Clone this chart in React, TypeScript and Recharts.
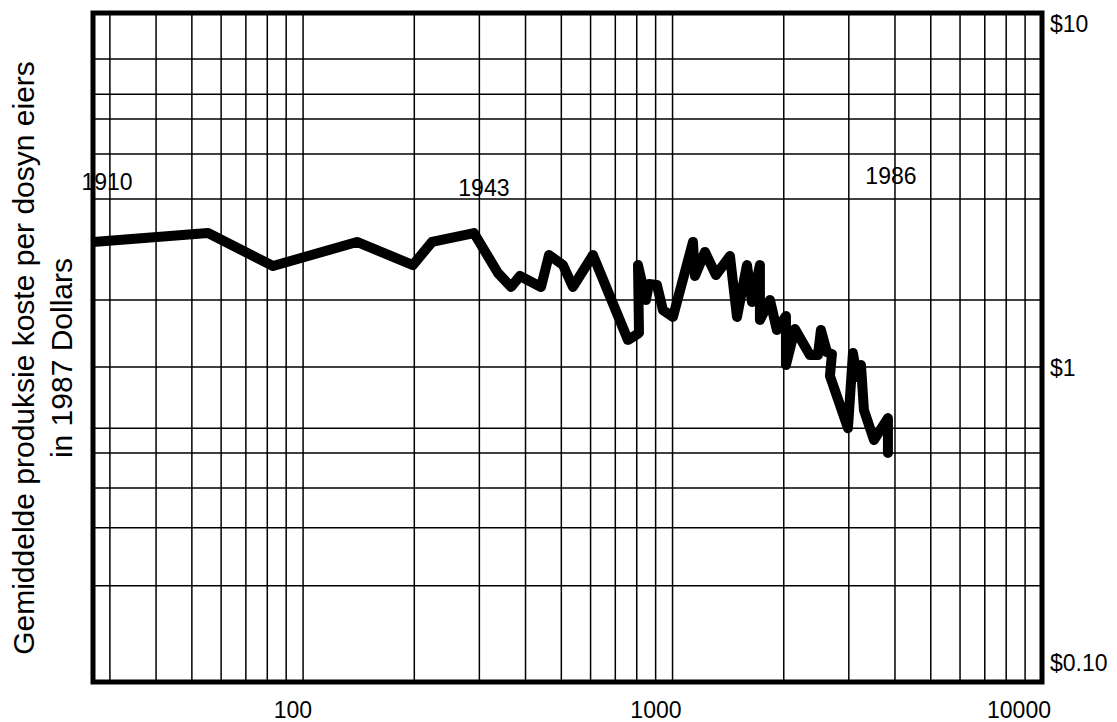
import React from 'react';
import {
  LineChart,
  Line,
  XAxis,
  YAxis,
  CartesianGrid,
  ReferenceLine,
  ReferenceArea,
  ReferenceDot,
} from 'recharts';

// cumulative production (log axis) and cost per dozen in 1987 dollars
const production = [
  27.0, 55.3, 82.9, 139.9, 198.3, 223.3, 290.0, 336.9, 365.3, 386.4, 440.5, 463.1, 505.1,
  537.6, 608.9, 757.5, 811.4, 806.3, 847.2, 863.2, 907.5, 941.9, 1002.5, 1135.6, 1149.9,
  1223.9, 1310.8, 1430.3, 1494.2, 1590.2, 1640.6, 1723.9, 1723.9, 1834.7, 1916.3, 2027.5,
  2027.5, 2144.2, 2353.7, 2474.5, 2521.2, 2617.5, 2700.4, 2666.8, 2983.7, 3078, 3155.9,
  3235.6, 3296.5, 3508.7, 3828.1, 3828.1,
];
const cost = [
  2.068, 2.199, 1.752, 2.068, 1.764, 2.068, 2.199, 1.67, 1.517, 1.636, 1.517, 1.89, 1.764,
  1.517, 1.89, 1.053, 1.105, 1.764, 1.387, 1.548, 1.537, 1.294, 1.234, 2.068, 1.636, 1.93,
  1.647, 1.877, 1.234, 1.764, 1.368, 1.764, 1.208, 1.387, 1.128, 1.242, 0.887, 1.136, 0.95,
  0.95, 1.128, 0.969, 0.956, 0.822, 0.574, 0.963, 0.816, 0.887, 0.65, 0.529, 0.615, 0.484,
];

const xGrid = [
  30, 40, 50, 60, 70, 80, 90, 100, 200, 300, 400, 500, 600, 700, 800, 900, 1000, 2000, 3000,
  4000, 5000, 6000, 7000, 8000, 9000, 10000,
];
const xLabelValues = [100, 1000, 10000];
const xLabels = ['100', '1000', '10000'];

const yGrid = [7.29, 5.72, 4.82, 3.79, 2.78, 1.387, 0.874, 0.574, 0.484, 0.38, 0.289, 0.194];
const yLabelValues = [10, 1, 0.1];
const yLabels = ['$10', '$1', '$0.10'];

const years = ['1910', '1943', '1986'];
const yearIndex = [0, 6, 51];
const yearLabelCost = [3.12, 3.0, 3.26];

const titleLines = ['Gemiddelde produksie koste per dosyn eiers', 'in 1987 Dollars'];

const data = production.map((x, i) => ({ x, cost: cost[i] }));

const FONT = '"Liberation Sans", Arial, Helvetica, sans-serif';

function XTick({ x, y, payload }: any) {
  const i = xLabelValues.indexOf(payload.value);
  if (i < 0) return <g />;
  return (
    <text x={x} y={y} dx={9} dy={28} textAnchor="end" fontSize={23} fontFamily={FONT} fill="#000">
      {xLabels[i]}
    </text>
  );
}

// labels at the frame edges sit inside the plot like the original
const yNudge: Record<string, number> = { '10': 11, '1': 20, '0.1': -19 };

function YTick({ x, y, payload }: any) {
  const i = yLabelValues.indexOf(payload.value);
  if (i < 0) return <g />;
  return (
    <text
      x={x}
      y={y + (yNudge[String(payload.value)] || 0)}
      dy="0.35em"
      textAnchor="start"
      fontSize={23}
      fontFamily={FONT}
      fill="#000"
    >
      {yLabels[i]}
    </text>
  );
}

const yearDx = [14, 10, 3];

function YearLabel(text: string, dx: number) {
  return (props: any) => (
    <text
      x={props.cx}
      y={props.cy}
      dx={dx}
      dy="0.35em"
      textAnchor="middle"
      fontSize={23}
      fontFamily={FONT}
      fill="#000"
    >
      {text}
    </text>
  );
}

function Title() {
  return (
    <g>
      {titleLines.map((t, i) => (
        <text
          key={t}
          transform="rotate(-90)"
          x={-350}
          y={26 + i * 38}
          textAnchor="middle"
          fontSize={30}
          fontFamily={FONT}
          fill="#000"
          style={{ whiteSpace: 'pre' }}
        >
          {t}
        </text>
      ))}
    </g>
  );
}

export default function App() {
  return (
    <div style={{ width: 1101, height: 714 }}>
      <LineChart
        width={1101}
        height={714}
        data={data}
        margin={{ top: 5, right: 7, left: 0, bottom: 10 }}
      >
        <CartesianGrid horizontal={false} stroke="#000" strokeWidth={1.5} />
        <XAxis
          dataKey="x"
          type="number"
          scale="log"
          domain={[27, 10000]}
          ticks={xGrid}
          allowDataOverflow
          axisLine={false}
          tickLine={false}
          interval={0}
          height={30}
          tick={<XTick />}
        />
        <YAxis
          yAxisId="title"
          orientation="left"
          width={85}
          axisLine={false}
          tickLine={false}
          tick={false}
          label={<Title />}
        />
        <YAxis
          yAxisId="cost"
          orientation="right"
          scale="log"
          domain={[0.1, 10]}
          ticks={yLabelValues}
          interval={0}
          allowDataOverflow
          axisLine={false}
          tickLine={false}
          width={60}
          tick={<YTick />}
        />
        {yGrid.map((v) => (
          <ReferenceLine key={v} yAxisId="cost" y={v} stroke="#000" strokeWidth={1.5} />
        ))}
        <ReferenceArea
          yAxisId="cost"
          x1={27}
          x2={10000}
          y1={0.1}
          y2={10}
          fill="none"
          fillOpacity={0}
          stroke="#000"
          strokeWidth={5}
        />
        <Line
          yAxisId="cost"
          type="linear"
          dataKey="cost"
          stroke="#000"
          strokeWidth={10}
          strokeLinejoin="round"
          strokeLinecap="round"
          dot={false}
          isAnimationActive={false}
        />
        {years.map((yr, i) => (
          <ReferenceDot
            key={yr}
            yAxisId="cost"
            x={production[yearIndex[i]]}
            y={yearLabelCost[i]}
            r={0}
            shape={YearLabel(yr, yearDx[i])}
          />
        ))}
      </LineChart>
    </div>
  );
}
